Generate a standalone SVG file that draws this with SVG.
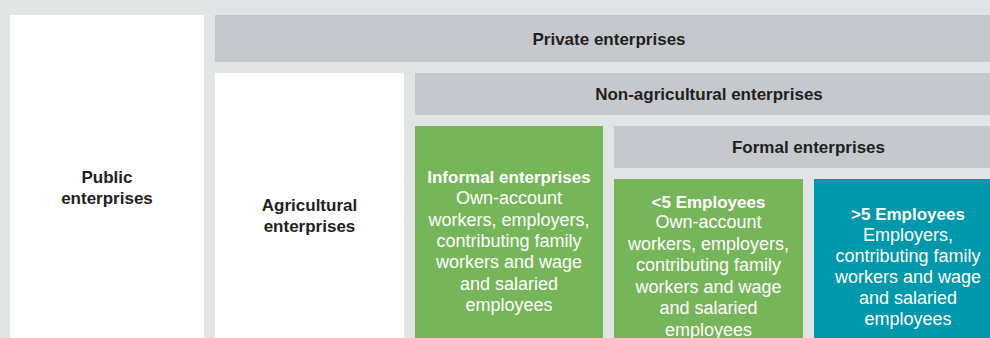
<svg xmlns="http://www.w3.org/2000/svg" width="990" height="338" viewBox="0 0 990 338">
<style>
.bg{fill:#e2e5e6}
.white{fill:#ffffff}
.bar{fill:#c5c9cd}
.green{fill:#77b55a}
.teal{fill:#0098aa}
.hd{font-family:"Liberation Sans",Arial,sans-serif;font-weight:bold;font-size:17px;fill:#231f20;text-anchor:middle}
.hdw{font-family:"Liberation Sans",Arial,sans-serif;font-weight:bold;font-size:17px;fill:#ffffff;text-anchor:middle}
.body{font-family:"Liberation Sans",Arial,sans-serif;font-size:18px;fill:#ffffff;text-anchor:middle}
</style>
<rect class="bg" x="0" y="0" width="990" height="338"/>
<g id="public">
<rect class="white" x="10" y="15" width="194" height="330"/>
<text class="hd" x="107" y="183">Public</text>
<text class="hd" x="107" y="204">enterprises</text>
</g>
<g id="private">
<rect class="bar" x="215" y="15" width="790" height="47"/>
<text class="hd" x="609" y="45">Private enterprises</text>
</g>
<g id="agricultural">
<rect class="white" x="215" y="73" width="189" height="270"/>
<text class="hd" x="309.5" y="211">Agricultural</text>
<text class="hd" x="309.5" y="232">enterprises</text>
</g>
<g id="nonagricultural">
<rect class="bar" x="415" y="73" width="590" height="42"/>
<text class="hd" x="709" y="100">Non-agricultural enterprises</text>
</g>
<g id="informal">
<rect class="green" x="415" y="126" width="188" height="220"/>
<text class="hdw" x="509" y="183">Informal enterprises</text>
<text class="body" x="509" y="204">Own-account</text>
<text class="body" x="509" y="225.5">workers, employers,</text>
<text class="body" x="509" y="247">contributing family</text>
<text class="body" x="509" y="268">workers and wage</text>
<text class="body" x="509" y="289.5">and salaried</text>
<text class="body" x="509" y="310.5">employees</text>
</g>
<g id="formal">
<rect class="bar" x="614" y="126" width="390" height="42"/>
<text class="hd" x="808.5" y="153">Formal enterprises</text>
</g>
<g id="less5">
<rect class="green" x="614" y="179" width="189" height="170"/>
<text class="hdw" x="708.5" y="207.5">&lt;5 Employees</text>
<text class="body" x="708.5" y="228">Own-account</text>
<text class="body" x="708.5" y="249.5">workers, employers,</text>
<text class="body" x="708.5" y="271">contributing family</text>
<text class="body" x="708.5" y="292.5">workers and wage</text>
<text class="body" x="708.5" y="314">and salaried</text>
<text class="body" x="708.5" y="335.5">employees</text>
</g>
<g id="more5">
<rect class="teal" x="814" y="179" width="190" height="170"/>
<text class="hdw" x="908" y="219.5">&gt;5 Employees</text>
<text class="body" x="908" y="240.5">Employers,</text>
<text class="body" x="908" y="261.5">contributing family</text>
<text class="body" x="908" y="283">workers and wage</text>
<text class="body" x="908" y="304">and salaried</text>
<text class="body" x="908" y="325">employees</text>
</g>
<g id="connectors"></g>
</svg>
